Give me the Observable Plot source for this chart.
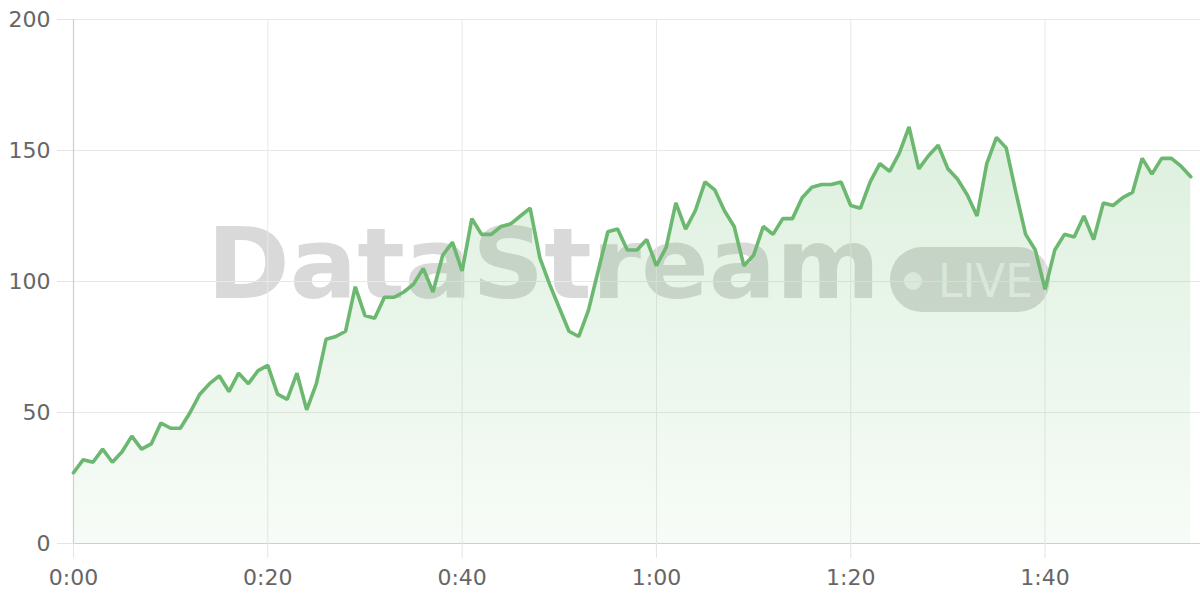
<!DOCTYPE html>
<html>
<head>
<meta charset="utf-8">
<script src="https://cdn.jsdelivr.net/npm/d3@7"></script>
<script src="https://cdn.jsdelivr.net/npm/@observablehq/plot@0.6"></script>
<style>
  html, body { margin: 0; padding: 0; background: #fff; }
  #wrap { position: relative; width: 1200px; height: 600px; font-family: "DejaVu Sans", sans-serif; }
  #wm, #chart { position: absolute; left: 0; top: 0; }
  #chart svg { background: transparent; }
</style>
</head>
<body>
<div id="wrap">
  <svg id="wm" width="1200" height="600">
    <text x="207" y="298" font-family="DejaVu Sans" font-weight="bold" font-size="98" fill="#d9d9d9" textLength="673" lengthAdjust="spacingAndGlyphs">DataStream</text>
    <rect x="890" y="247" width="160" height="65" rx="32" fill="#d9d9d9"></rect>
    <circle cx="913" cy="281" r="9" fill="#ffffff" fill-opacity="0.6"></circle>
    <text x="938" y="297" font-family="DejaVu Sans" font-size="46" fill="#ffffff" fill-opacity="0.6" textLength="95" lengthAdjust="spacingAndGlyphs">LIVE</text>
  </svg>
  <div id="chart"></div>
</div>
<script>
// time in seconds = index of the value
const values = [27,32,31,36,31,35,41,36,38,46,
  44,44,50,57,61,64,58,65,61,66,
  68,57,55,65,51,61,78,79,81,98,
  87,86,94,94,96,99,105,96,110,115,
  104,124,118,118,121,122,125,128,109,99,
  90,81,79,89,104,119,120,112,112,116,
  106,113,130,120,127,138,135,127,121,106,
  110,121,118,124,124,132,136,137,137,138,
  129,128,138,145,142,149,159,143,148,152,
  143,139,133,125,145,155,151,134,118,112,
  97,112,118,117,125,116,130,129,132,134,
  147,141,147,147,144,140];
const xTicks = [0, 20, 40, 60, 80, 100];
const yTicks = [0, 50, 100, 150, 200];
const xDomain = [0, 116];
const yDomain = [0, 200];

const data = values.map((v, i) => ({t: i, v}));
const fmt = s => `${Math.floor(s / 60)}:${String(s % 60).padStart(2, "0")}`;

const chart = Plot.plot({
  width: 1200,
  height: 600,
  marginLeft: 73,
  marginRight: 0,
  marginTop: 19,
  marginBottom: 57,
  style: {background: "transparent", fontFamily: "DejaVu Sans, sans-serif", fontSize: "22px", color: "#666"},
  x: {domain: xDomain},
  y: {domain: yDomain},
  marks: [
    Plot.gridY(yTicks, {stroke: "#e8e8e8", strokeOpacity: 1, strokeWidth: 1}),
    Plot.gridX(xTicks, {stroke: "#e8e8e8", strokeOpacity: 1, strokeWidth: 1}),
    Plot.areaY(data, {x: "t", y: "v", fill: "url(#areaGrad)", curve: "linear"}),
    Plot.ruleX([0], {stroke: "#cfcfcf", strokeWidth: 1.2}),
    Plot.ruleY([0], {stroke: "#cfcfcf", strokeWidth: 1.2}),
    Plot.lineY(data, {x: "t", y: "v", stroke: "#6cb870", strokeWidth: 3.6, strokeLinejoin: "miter", curve: "linear"}),
    Plot.axisY(yTicks, {tickSize: 16, tickPadding: 7, stroke: "#e4e4e4", strokeOpacity: 1, fill: "#666", label: null}),
    Plot.axisX(xTicks, {tickSize: 15, tickPadding: 11, stroke: "#e4e4e4", strokeOpacity: 1, fill: "#666", tickFormat: fmt, label: null})
  ]
});

const svg = d3.select(chart);
const defs = svg.insert("defs", ":first-child");
const g = defs.append("linearGradient")
  .attr("id", "areaGrad")
  .attr("gradientUnits", "userSpaceOnUse")
  .attr("x1", 0).attr("x2", 0).attr("y1", 19).attr("y2", 543);
g.append("stop").attr("offset", "0%").attr("stop-color", "#66bb6a").attr("stop-opacity", 0.27);
g.append("stop").attr("offset", "100%").attr("stop-color", "#66bb6a").attr("stop-opacity", 0.05);

document.getElementById("chart").appendChild(chart);
</script>
</body>
</html>
